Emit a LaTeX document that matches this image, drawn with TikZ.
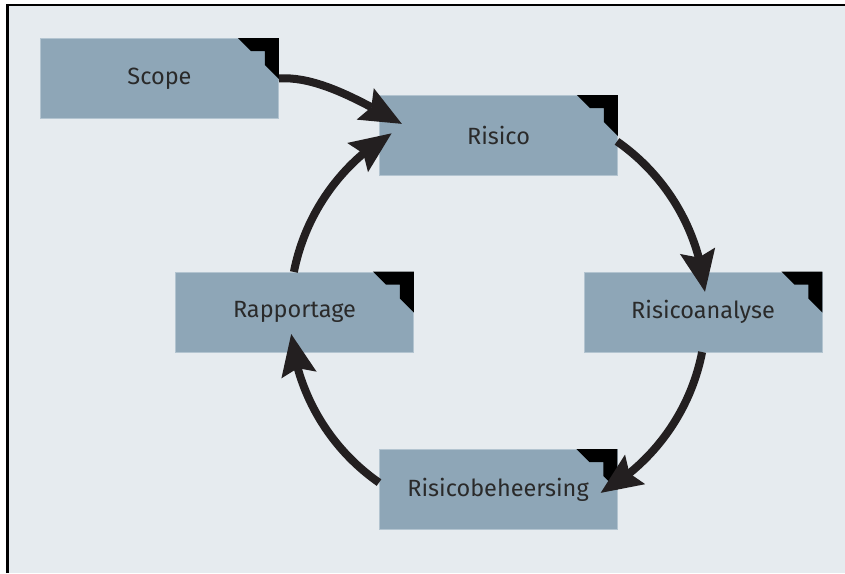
\documentclass[tikz,border=0pt]{standalone}
\usepackage{fontspec}
\setmainfont{Fira Sans}
\usetikzlibrary{arrows.meta,bending,calc}
\definecolor{bg}{HTML}{E6EBEF}
\definecolor{boxc}{HTML}{8EA6B7}
\definecolor{boxe}{HTML}{B3C4D0}
\definecolor{arrc}{HTML}{231F20}
\definecolor{txt}{HTML}{2A2A2A}
\begin{document}
\begin{tikzpicture}[x=1pt,y=-1pt,
 box/.style={fill=boxc,draw=boxe,line width=0.8pt,minimum width=238pt,minimum height=80pt,inner sep=0pt,text=txt,font=\fontsize{23.5}{27}\selectfont},
 arr/.style={draw=arrc,line width=8pt,-{Stealth[length=41pt,width=34pt,inset=6pt,flex]}},
 cornermark/.style={fill=black}]
\useasboundingbox (0,0) rectangle (845,573);
\fill[white] (0,0) rectangle (845,573);
\fill[bg] (8,5) rectangle (845,573);
\draw[black,line width=2.5pt] (7.5,573) -- (7.5,5) -- (845,5);

\node[box] (scope)   at (159.5,78.5) {Scope};
\node[box] (risico)  at (498.5,135.5) {Risico};
\node[box] (rapp)    at (294.5,312) {Rapportage};
\node[box] (analyse) at (703,312) {Risicoanalyse};
\node[box] (beh)     at (498,489.5) {Risicobeheersing};

\foreach \n in {scope,risico,rapp,analyse,beh}
  \fill[cornermark] (\n.north east) -- ++(-41,0) -- ++(13,13) -- ++(14,0) -- ++(0,14) -- ++(14,14) -- cycle;

\coordinate (c) at (498,312);
\coordinate (s1) at ($(c)+(-55.1:208)$);
\coordinate (s2) at ($(c)+(11.1:208)$);
\coordinate (s3) at ($(c)+(124.9:208)$);
\coordinate (s4) at ($(c)+(-168.9:208)$);
\coordinate (e0) at ($(risico.west)+(23,-11.5)$);

\draw[arr] (scope.east) .. controls ($(scope.east)+(40,-3)$) and ($(e0)+(-35,-19)$) .. (e0);
\draw[arr] (s1) arc[start angle=-55.1, end angle=-5.5, radius=208];
\draw[arr] (s2) arc[start angle=11.1, end angle=60.5, radius=208];
\draw[arr] (s3) arc[start angle=124.9, end angle=174, radius=208];
\draw[arr] (s4) arc[start angle=-168.9, end angle=-120.7, radius=208];
\end{tikzpicture}
\end{document}
